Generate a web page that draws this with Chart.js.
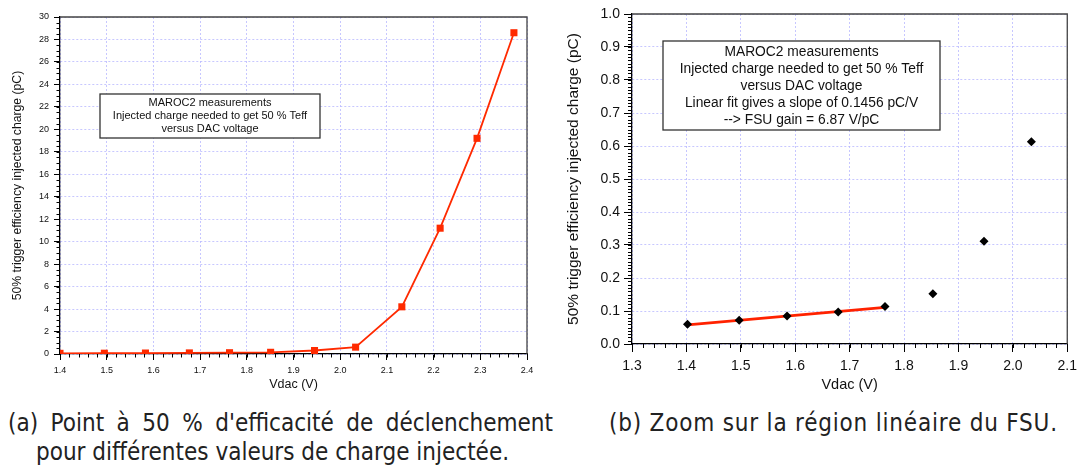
<!DOCTYPE html>
<html>
<head>
<meta charset="utf-8">
<script src="https://cdn.jsdelivr.net/npm/chart.js@4.4.0/dist/chart.umd.min.js"></script>
<style>
  body { margin: 0; background: #fff; }
  #wrap { position: relative; width: 1083px; height: 472px; overflow: hidden; background: #fff; }
  #chartA { position: absolute; left: 0; top: 0; }
  #chartB { position: absolute; left: 545px; top: 0; }
  .cap { position: absolute; font-family: "DejaVu Sans Condensed", "Liberation Sans Narrow", sans-serif; font-size: 24px; line-height: 29px; color: #222; white-space: nowrap; }
  .cap span { display: block; }
  #capA { left: 8px; top: 409px; width: 545px; }
  #capA .l1 { white-space: normal; text-align: justify; text-align-last: justify; }
  #capA .l2 { padding-left: 28px; }
  #capB { left: 609px; top: 409px; letter-spacing: 0.8px; }
</style>
</head>
<body>
<div id="wrap">
  <canvas id="chartA" width="545" height="400"></canvas>
  <canvas id="chartB" width="538" height="400"></canvas>
  <div class="cap" id="capA"><span class="l1">(a) Point à 50 % d'efficacité de déclenchement</span><span class="l2">pour différentes valeurs de charge injectée.</span></div>
  <div class="cap" id="capB">(b) Zoom sur la région linéaire du FSU.</div>
</div>
<script>
// (a) full scan
const vdacFull = [1.400, 1.495, 1.583, 1.677, 1.763, 1.851, 1.945, 2.033, 2.132, 2.214, 2.293, 2.372];
const chargeFull = [0.06, 0.07, 0.085, 0.097, 0.114, 0.152, 0.31, 0.61, 4.2, 11.2, 19.2, 28.6];
const xTicksA = [1.4, 1.5, 1.6, 1.7, 1.8, 1.9, 2.0, 2.1, 2.2, 2.3, 2.4];
const yTicksA = [0, 2, 4, 6, 8, 10, 12, 14, 16, 18, 20, 22, 24, 26, 28, 30];

// (b) zoom on the linear part
const vdacZoom = [1.402, 1.497, 1.585, 1.679, 1.765, 1.853, 1.947, 2.034];
const chargeZoom = [0.060, 0.072, 0.085, 0.097, 0.114, 0.152, 0.311, 0.613];
const fitX = [1.402, 1.765];
const fitY = [0.058, 0.111];
const xTicksB = [1.3, 1.4, 1.5, 1.6, 1.7, 1.8, 1.9, 2.0, 2.1];
const yTicksB = [0.0, 0.1, 0.2, 0.3, 0.4, 0.5, 0.6, 0.7, 0.8, 0.9, 1.0];

const boxTextA = ['MAROC2 measurements', 'Injected charge needed to get 50 % Teff', 'versus DAC voltage'];
const boxTextB = ['MAROC2 measurements', 'Injected charge needed to get 50 % Teff', 'versus DAC voltage',
  'Linear fit gives a slope of 0.1456 pC/V', '--> FSU gain = 6.87 V/pC'];

const FONT = '"Liberation Sans", Arial, sans-serif';
const GRID = 'rgba(180, 180, 255, 0.75)';

const toPoints = (xs, ys) => xs.map((x, i) => ({ x, y: ys[i] }));

// minor ticks + top/right frame, positions taken from the scales
const frameAndMinor = {
  id: 'frameAndMinor',
  afterDraw(chart, args, opts) {
    const { ctx, chartArea: a, scales: { x, y } } = chart;
    ctx.save();
    ctx.strokeStyle = '#000';
    ctx.lineWidth = 1;
    ctx.beginPath();
    const nx = Math.round((x.max - x.min) / opts.xStep);
    for (let i = 0; i <= nx; i++) {
      const px = Math.round(x.getPixelForValue(x.min + i * opts.xStep)) + 0.5;
      ctx.moveTo(px, a.bottom);
      ctx.lineTo(px, a.bottom + opts.len);
    }
    const ny = Math.round((y.max - y.min) / opts.yStep);
    for (let i = 0; i <= ny; i++) {
      const py = Math.round(y.getPixelForValue(y.min + i * opts.yStep)) + 0.5;
      ctx.moveTo(a.left, py);
      ctx.lineTo(a.left - opts.len, py);
    }
    ctx.stroke();
    ctx.strokeStyle = '#444';
    ctx.lineWidth = 1.3;
    ctx.beginPath();
    ctx.moveTo(a.left, a.top);
    ctx.lineTo(a.right, a.top);
    ctx.lineTo(a.right, a.bottom);
    ctx.stroke();
    ctx.restore();
  }
};

const textBox = {
  id: 'textBox',
  afterDatasetsDraw(chart, args, o) {
    const { ctx } = chart;
    ctx.save();
    ctx.fillStyle = '#fff';
    ctx.fillRect(o.x, o.y, o.w, o.h);
    ctx.strokeStyle = '#333';
    ctx.lineWidth = 1.3;
    ctx.strokeRect(o.x, o.y, o.w, o.h);
    ctx.fillStyle = '#111';
    ctx.font = o.size + 'px ' + FONT;
    ctx.textAlign = 'center';
    ctx.textBaseline = 'middle';
    o.lines.forEach((t, i) => ctx.fillText(t, o.x + o.w / 2, o.y + o.first + i * o.gap));
    ctx.restore();
  }
};

function axis(ticks, fmt, o) {
  return {
    type: 'linear',
    min: ticks[0],
    max: ticks[ticks.length - 1],
    afterBuildTicks: s => { s.ticks = ticks.map(v => ({ value: v })); },
    afterFit: s => { if (o.width) s.width = o.width; if (o.height) s.height = o.height; },
    grid: { color: GRID, lineWidth: 1, tickColor: '#000', tickLength: o.tick, tickWidth: 1 },
    border: { color: '#000', width: 1.3, dash: [2, 2] },
    ticks: {
      autoSkip: false, maxRotation: 0, padding: o.pad, color: '#111',
      font: { family: FONT, size: o.tickSize },
      callback: v => fmt(v)
    },
    title: {
      display: true, text: o.title, color: '#111',
      font: { family: FONT, size: o.titleSize },
      padding: o.titlePad
    }
  };
}

new Chart(document.getElementById('chartA'), {
  type: 'line',
  data: {
    datasets: [{
      data: toPoints(vdacFull, chargeFull),
      borderColor: '#ff2a00',
      backgroundColor: '#ff2a00',
      borderWidth: 1.8,
      pointStyle: 'rect',
      pointRadius: 5,
      pointBorderWidth: 0,
      tension: 0
    }]
  },
  options: {
    responsive: false,
    animation: false,
    layout: { padding: { top: 17, right: 18, left: 0, bottom: 0 } },
    plugins: {
      legend: { display: false },
      tooltip: { enabled: false },
      frameAndMinor: { xStep: 0.02, yStep: 0.5, len: 3.5 },
      textBox: { x: 100, y: 94, w: 220, h: 44, size: 11, first: 9, gap: 13, lines: boxTextA }
    },
    scales: {
      x: axis(xTicksA, v => v.toFixed(1), { height: 46, tick: 6, pad: 5, tickSize: 9, title: 'Vdac (V)', titleSize: 12.5, titlePad: { top: 0, bottom: 8 } }),
      y: axis(yTicksA, v => String(v), { width: 60, tick: 6, pad: 5, tickSize: 9, title: '50% trigger efficiency injected charge (pC)', titleSize: 12.2, titlePad: { top: 10.5, bottom: 0 } })
    }
  },
  plugins: [frameAndMinor, textBox]
});

new Chart(document.getElementById('chartB'), {
  type: 'scatter',
  data: {
    datasets: [{
      data: toPoints(vdacZoom, chargeZoom),
      borderColor: '#000',
      backgroundColor: '#000',
      pointStyle: 'rectRot',
      pointRadius: 4.5,
      pointBorderWidth: 0,
      showLine: false
    }, {
      type: 'line',
      data: toPoints(fitX, fitY),
      borderColor: '#ff2200',
      borderWidth: 2.6,
      pointRadius: 0,
      tension: 0
    }]
  },
  options: {
    responsive: false,
    animation: false,
    layout: { padding: { top: 14, right: 11, left: 0, bottom: 0 } },
    plugins: {
      legend: { display: false },
      tooltip: { enabled: false },
      frameAndMinor: { xStep: 0.02, yStep: 0.01, len: 4 },
      textBox: { x: 118, y: 41, w: 277, h: 89, size: 13.8, first: 11.5, gap: 16.8, lines: boxTextB }
    },
    scales: {
      x: axis(xTicksB, v => v.toFixed(1), { height: 56, tick: 8, pad: 6, tickSize: 14, title: 'Vdac (V)', titleSize: 14.5, titlePad: { top: 0, bottom: 6 } }),
      y: axis(yTicksB, v => v.toFixed(1), { width: 87, tick: 8, pad: 4, tickSize: 14, title: '50% trigger efficiency injected charge (pC)', titleSize: 15.5, titlePad: { top: 19, bottom: 0 } })
    }
  },
  plugins: [frameAndMinor, textBox]
});
</script>
</body>
</html>
